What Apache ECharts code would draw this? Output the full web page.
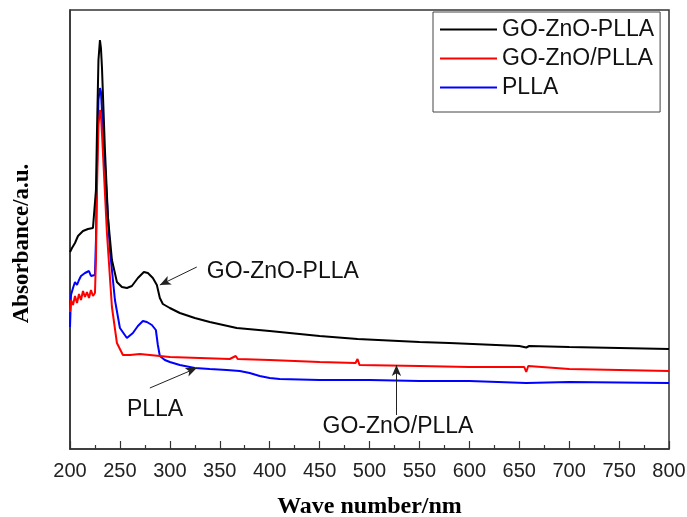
<!DOCTYPE html>
<html>
<head>
<meta charset="utf-8">
<script src="https://cdn.jsdelivr.net/npm/echarts@6/dist/echarts.min.js"></script>
<style>
  html, body { margin: 0; padding: 0; background: #fff; }
  #chart { width: 687px; height: 517px; }
</style>
</head>
<body>
<div id="chart"></div>
<script>
// spectra: [wavelength nm, absorbance a.u.]
const goZnoPlla = [
  [200, 1.97], [202, 2.01], [205, 2.06], [208, 2.13], [210, 2.15], [213, 2.18], [215, 2.17],
  [218, 2.20], [220, 2.20], [223, 2.21], [225, 2.22], [226, 2.59], [227, 3.16], [228.5, 3.89],
  [230, 4.09], [231, 4.01], [232, 3.82], [235, 2.99], [238, 2.32], [242, 1.89], [247, 1.67],
  [252, 1.62], [257, 1.61], [262, 1.63], [268, 1.71], [274, 1.77], [278, 1.76], [283, 1.71],
  [287, 1.64], [290, 1.51], [293, 1.45], [300, 1.41], [310, 1.36], [325, 1.31], [340, 1.27],
  [367, 1.21], [400, 1.18], [430, 1.15], [450, 1.13], [488, 1.10], [550, 1.07], [580, 1.06],
  [650, 1.03], [657, 1.015], [660, 1.03], [700, 1.02], [750, 1.01], [800, 1.00]
];
const goZnoSlashPlla = [
  [200, 1.37], [201, 1.49], [203, 1.44], [205, 1.53], [207, 1.46], [209, 1.55], [211, 1.49],
  [213, 1.58], [215, 1.52], [217, 1.57], [219, 1.51], [221, 1.59], [223, 1.53], [225, 1.56],
  [226, 1.89], [227, 2.59], [228.5, 3.24], [230, 3.39], [231, 3.34], [232, 3.16], [237, 2.16],
  [242, 1.42], [247, 1.06], [253, 0.94], [260, 0.94], [270, 0.95], [280, 0.94], [300, 0.92],
  [330, 0.91], [360, 0.90], [366, 0.93], [368, 0.90], [400, 0.89], [450, 0.87], [486, 0.86],
  [488, 0.90], [490, 0.84], [492, 0.86], [550, 0.83], [600, 0.82], [655, 0.82], [657, 0.77],
  [659, 0.83], [700, 0.80], [750, 0.79], [800, 0.78]
];
const plla = [
  [200, 1.22], [201, 1.54], [203, 1.61], [205, 1.67], [207, 1.64], [209, 1.69], [211, 1.73],
  [213, 1.71], [215, 1.76], [217, 1.74], [219, 1.78], [221, 1.73], [223, 1.75], [225, 1.74],
  [226, 2.09], [227, 2.79], [228.5, 3.49], [230, 3.61], [231, 3.57], [232, 3.39], [237, 2.49],
  [240, 1.99], [245, 1.49], [250, 1.21], [257, 1.11], [263, 1.16], [268, 1.23], [273, 1.28],
  [277, 1.27], [282, 1.24], [286, 1.19], [288, 1.04], [290, 0.93], [295, 0.89], [300, 0.87],
  [310, 0.84], [325, 0.81], [340, 0.80], [357, 0.79], [370, 0.78], [380, 0.76], [390, 0.73],
  [400, 0.71], [410, 0.70], [450, 0.69], [488, 0.69], [500, 0.69], [550, 0.68], [600, 0.68],
  [657, 0.66], [700, 0.67], [800, 0.66]
];
const seriesNames = ["GO-ZnO-PLLA", "GO-ZnO/PLLA", "PLLA"];
const seriesColors = ["#000000", "#ff0000", "#0000ff"];

// annotation arrows: [from, to] in data coords, text anchor in data coords
const notes = [
  { text: "GO-ZnO-PLLA", from: [327, 1.82], to: [290, 1.64], at: [337, 1.77] },
  { text: "PLLA", from: [280, 0.61], to: [327, 0.81], at: [257, 0.39] },
  { text: "GO-ZnO/PLLA", from: [527, 0.34], to: [527, 0.84], at: [453, 0.22] }
];

const chart = echarts.init(document.getElementById("chart"));

const font = "'Liberation Sans', Arial, sans-serif";
const serif = "'Liberation Serif', 'Times New Roman', serif";

const arrowLines = {
  silent: true,
  symbol: ["none", "arrow"],
  symbolSize: [7, 11],
  label: { show: false },
  lineStyle: { color: "#222", width: 1, type: "solid" },
  emphasis: { disabled: true },
  data: notes.map(n => [{ coord: n.from }, { coord: n.to }])
};

const option = {
  animation: false,
  backgroundColor: "#fff",
  grid: {
    left: 70, right: 18, top: 10, bottom: 68,
    containLabel: false,
    outerBoundsMode: "none",
    show: true, borderColor: "#333", borderWidth: 1.5
  },
  legend: {
    orient: "vertical",
    left: 433, top: 12,
    padding: [3, 6, 10, 7],
    itemGap: 0,
    itemWidth: 57, itemHeight: 2,
    icon: "rect",
    borderColor: "#444", borderWidth: 1,
    textStyle: { fontFamily: font, fontSize: 23, color: "#111", lineHeight: 29 },
    data: seriesNames
  },
  xAxis: {
    type: "value",
    min: 200, max: 800, interval: 50,
    name: "Wave number/nm",
    nameLocation: "middle",
    nameGap: 46,
    nameTextStyle: { fontFamily: serif, fontWeight: "bold", fontSize: 24, color: "#000" },
    axisLine: { lineStyle: { color: "#333", width: 1.5 } },
    axisTick: { inside: true, length: 8, lineStyle: { color: "#333", width: 1.2 } },
    minorTick: { show: true, splitNumber: 2, length: 4, lineStyle: { color: "#333", width: 1.2 } },
    axisLabel: { fontFamily: font, fontSize: 20, color: "#222", margin: 12 },
    splitLine: { show: false }
  },
  yAxis: {
    type: "value",
    min: 0, max: 4.39,
    name: "Absorbance/a.u.",
    nameLocation: "middle",
    nameGap: 36,
    nameRotate: 90,
    nameTextStyle: {
      fontFamily: serif, fontWeight: "bold", fontSize: 23, color: "#000",
      padding: [0, 28, 0, 0]
    },
    axisLine: { show: true, lineStyle: { color: "#333", width: 1.5 } },
    axisTick: { show: false },
    axisLabel: { show: false },
    splitLine: { show: false }
  },
  series: [goZnoPlla, goZnoSlashPlla, plla].map((d, i) => ({
    name: seriesNames[i],
    type: "line",
    data: d,
    showSymbol: false,
    symbol: "none",
    smooth: false,
    color: seriesColors[i],
    lineStyle: { color: seriesColors[i], width: 2 },
    z: 3 - i,
    markLine: i === 0 ? arrowLines : undefined
  }))
};
chart.setOption(option);

// annotation texts placed from data coords
chart.setOption({
  graphic: notes.map(n => {
    const p = chart.convertToPixel({ gridIndex: 0 }, n.at);
    return {
      type: "text",
      x: p[0], y: p[1],
      silent: true,
      style: {
        text: n.text,
        fontFamily: font, fontSize: 23, fill: "#111",
        textAlign: "left", textVerticalAlign: "middle"
      }
    };
  })
});
</script>
</body>
</html>
